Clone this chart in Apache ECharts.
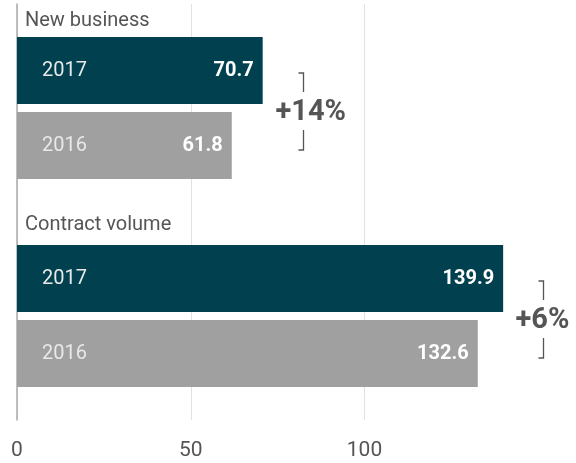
<!DOCTYPE html>
<html>
<head>
<meta charset="utf-8">
<script src="https://cdn.jsdelivr.net/npm/echarts/dist/echarts.min.js"></script>
<style>
  html, body { margin: 0; padding: 0; background: #fff; }
  #main { width: 576px; height: 463px; }
</style>
</head>
<body>
<div id="main"></div>
<script>
// data
var groups = ['New business', 'Contract volume'];
var years = ['2017', '2016'];
var newBusiness = [70.7, 61.8];
var contractVolume = [139.9, 132.6];
var changeLabels = ['+14%', '+6%'];
var axisTicks = [0, 50, 100];

var yearColors = ['#00404f', '#a0a0a0'];
var FONT = 'Roboto, "Open Sans", sans-serif';

function barData(vals) {
  return vals.map(function (v, i) {
    return { value: v, itemStyle: { color: yearColors[i] } };
  });
}

function barYAxis(idx) {
  return {
    type: 'category',
    gridIndex: idx,
    inverse: true,
    data: years,
    z: 3,
    axisLine: { show: false },
    axisTick: { show: false },
    splitLine: { show: false },
    axisLabel: {
      inside: true,
      margin: 25,
      color: '#e8e8e8',
      fontSize: 20,
      fontFamily: FONT,
      padding: [3, 0, 0, 0]
    }
  };
}

function barSeries(idx, vals) {
  return {
    type: 'bar',
    xAxisIndex: idx,
    yAxisIndex: idx,
    barCategoryGap: '10.7%',
    data: barData(vals),
    silent: true,
    label: {
      show: true,
      position: 'insideRight',
      distance: 9,
      color: '#fff',
      fontWeight: 'bold',
      fontSize: 20,
      fontFamily: FONT
    }
  };
}

var chart = echarts.init(document.getElementById('main'));
var option = {
  animation: false,
  grid: [
    { left: 17, top: 4, width: 347.5, bottom: 43 },
    { left: 17, right: 3, top: 33, height: 150 },
    { left: 17, right: 3, top: 241, height: 150 }
  ],
  xAxis: [
    {
      type: 'value', gridIndex: 0,
      min: axisTicks[0], max: axisTicks[axisTicks.length - 1], interval: 50,
      axisLine: { show: false },
      axisTick: { show: false },
      splitLine: { lineStyle: { color: '#e2e2e2', width: 1 } },
      axisLabel: { color: '#555', fontSize: 21, fontFamily: FONT, margin: 20 }
    },
    { type: 'value', gridIndex: 1, min: 0, max: 160, show: false },
    { type: 'value', gridIndex: 2, min: 0, max: 160, show: false }
  ],
  yAxis: [
    {
      type: 'value', gridIndex: 0,
      axisLine: { show: true, lineStyle: { color: '#aaa', width: 1.5 } },
      axisTick: { show: false },
      axisLabel: { show: false },
      splitLine: { show: false }
    },
    barYAxis(1),
    barYAxis(2)
  ],
  series: [
    barSeries(1, newBusiness),
    barSeries(2, contractVolume)
  ]
};
chart.setOption(option);

// annotations: group headers, brackets and change labels
var graphics = [];
var headerY = [21, 225];
var seriesVals = [newBusiness, contractVolume];
groups.forEach(function (g, gi) {
  graphics.push({
    type: 'text', x: 25, y: headerY[gi],
    style: { text: g, fill: '#555', font: '20px ' + FONT, textVerticalAlign: 'middle' }
  });
  var idx = gi + 1;
  var xEnd = chart.convertToPixel({ xAxisIndex: idx }, Math.max.apply(null, seriesVals[gi]));
  var y0 = chart.convertToPixel({ yAxisIndex: idx }, years[0]);
  var y1 = chart.convertToPixel({ yAxisIndex: idx }, years[1]);
  var c = (y0 + y1) / 2;
  var bx = Math.round(xEnd + 40) + 0.5;
  var stroke = { stroke: '#555', lineWidth: 1.3, fill: null };
  graphics.push({
    type: 'polyline', silent: true,
    shape: { points: [[bx - 5, c - 35], [bx, c - 35], [bx, c - 16]] },
    style: stroke
  });
  graphics.push({
    type: 'polyline', silent: true,
    shape: { points: [[bx, c + 22], [bx, c + 42], [bx - 5, c + 42]] },
    style: stroke
  });
  graphics.push({
    type: 'text', x: bx - 28, y: c + 5,
    style: {
      text: changeLabels[gi], fill: '#555',
      font: 'bold 29px ' + FONT,
      textAlign: 'left', textVerticalAlign: 'middle'
    }
  });
});
chart.setOption({ graphic: graphics });
</script>
</body>
</html>
